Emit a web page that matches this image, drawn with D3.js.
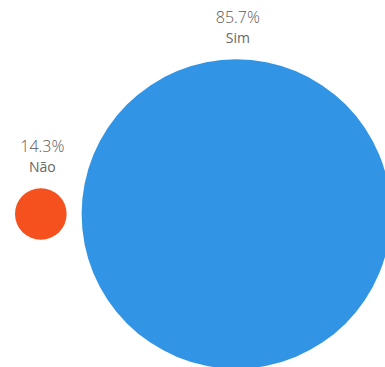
<!DOCTYPE html>
<html>
<head>
<meta charset="utf-8">
<script src="https://cdn.jsdelivr.net/npm/d3@7"></script>
<style>
  html, body { margin: 0; padding: 0; background: #ffffff; }
  svg { display: block; }
</style>
</head>
<body>
<svg id="chart" width="385" height="367"></svg>
<script>
// Answer categories and their share of responses (%)
const categories = ["Não", "Sim"];
const values = [14.3, 85.7];
const colors = ["#F4511E", "#3194E5"];

const width = 385, height = 367;
const svg = d3.select("#chart");

// Bubble radius grows linearly with the share
const r = d3.scaleLinear().domain([0, 100]).range([0, 180.5]);

const cy = 214;
const gap = 15;
const left = 15;

// Place the bubbles side by side along a horizontal line
let cursor = left;
const nodes = categories.map((c, i) => {
  const rad = r(values[i]);
  const cx = cursor + rad;
  cursor = cx + rad + gap;
  return { cat: c, value: values[i], color: colors[i], cx, cy, rad };
});

const fmt = d => d3.format(".1f")(d) + "%";

const g = svg.append("g");

g.selectAll("circle")
  .data(nodes)
  .join("circle")
  .attr("cx", d => d.cx)
  .attr("cy", d => d.cy)
  .attr("r", d => d.rad)
  .attr("fill", d => d.color);

const labels = g.selectAll("g.label")
  .data(nodes)
  .join("g")
  .attr("class", "label")
  .attr("transform", d => `translate(${d.cx + 1.5},${d.cy - d.rad - 16})`)
  .attr("font-family", "'Open Sans', sans-serif")
  .attr("text-anchor", "middle");

labels.append("text")
  .attr("y", -20.5)
  .attr("font-size", 16)
  .attr("font-weight", 300)
  .attr("fill", "#5a5a5a")
  .text(d => fmt(d.value));

labels.append("text")
  .attr("y", 0)
  .attr("font-size", 14)
  .attr("fill", "#666")
  .text(d => d.cat);
</script>
</body>
</html>
